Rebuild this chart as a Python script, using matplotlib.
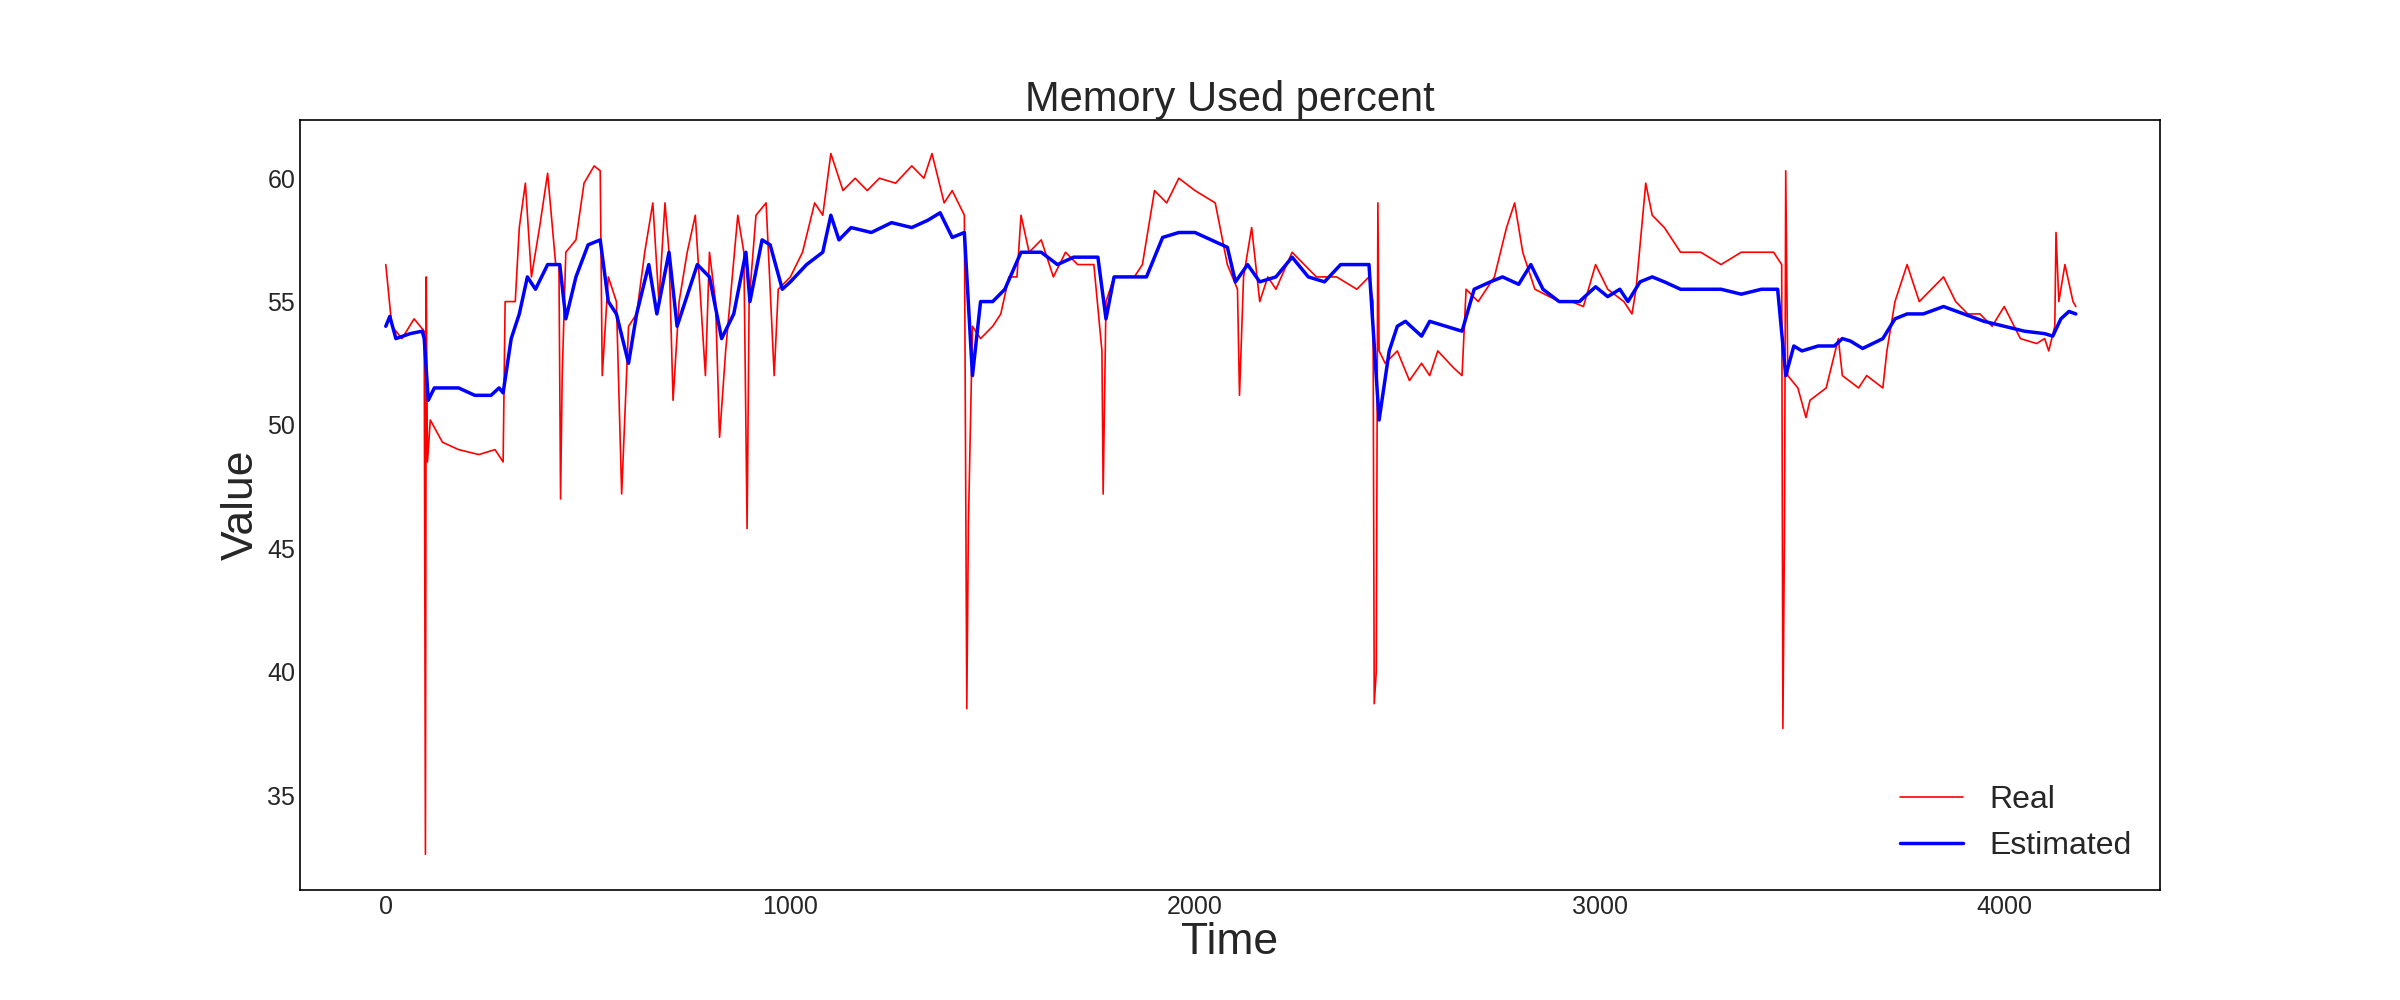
import matplotlib
matplotlib.use("Agg")
import matplotlib.pyplot as plt
import numpy as np

# Real series (time, value)
real_t = [0, 15, 40, 70, 95, 98, 100, 103, 110, 140, 180, 230, 270, 290, 295, 320, 330, 345, 360, 380,
          400, 420, 428, 432, 436, 445, 470, 490, 515, 530, 535, 550, 570, 583, 600, 620, 640, 660, 675, 690,
          700, 710, 725, 745, 765, 790, 800, 815, 825, 840, 870, 885, 893, 898, 915, 940, 960, 970, 1000, 1030,
          1060, 1080, 1100, 1130, 1160, 1190, 1220, 1260, 1300, 1330, 1350, 1380, 1400, 1430, 1436, 1440, 1450, 1470, 1500, 1520,
          1540, 1560, 1570, 1590, 1620, 1650, 1680, 1710, 1750, 1770, 1773, 1780, 1800, 1850, 1870, 1900, 1930, 1960, 2000, 2050,
          2080, 2105, 2110, 2120, 2140, 2160, 2180, 2200, 2240, 2270, 2300, 2350, 2400, 2430, 2440, 2443, 2448, 2452, 2455, 2470,
          2500, 2530, 2560, 2580, 2600, 2640, 2660, 2670, 2700, 2740, 2770, 2790, 2810, 2840, 2900, 2930, 2960, 2990, 3020, 3060,
          3080, 3090, 3114, 3130, 3160, 3200, 3250, 3300, 3350, 3400, 3430, 3450, 3453, 3457, 3460, 3465, 3490, 3510, 3520, 3560,
          3590, 3600, 3640, 3660, 3700, 3710, 3730, 3760, 3790, 3820, 3850, 3880, 3910, 3940, 3970, 4000, 4040, 4080, 4100, 4110,
          4125, 4128, 4135, 4150, 4170, 4177]
real_v = [56.5, 54, 53.5, 54.3, 53.8, 32.6, 56, 48.5, 50.2, 49.3, 49, 48.8, 49, 48.5, 55, 55, 58, 59.8, 56, 58,
          60.2, 56.5, 56.5, 47, 52, 57, 57.5, 59.8, 60.5, 60.3, 52, 56, 55, 47.2, 54, 54.5, 57, 59, 55, 59,
          57, 51, 55, 57, 58.5, 52, 57, 55, 49.5, 53, 58.5, 57, 45.8, 55, 58.5, 59, 52, 55.5, 56, 57,
          59, 58.5, 61, 59.5, 60, 59.5, 60, 59.8, 60.5, 60, 61, 59, 59.5, 58.5, 38.5, 46, 54, 53.5, 54, 54.5,
          56, 56, 58.5, 57, 57.5, 56, 57, 56.5, 56.5, 53, 47.2, 55, 56, 56, 56.5, 59.5, 59, 60, 59.5, 59,
          56.5, 55.5, 51.2, 56, 58, 55, 56, 55.5, 57, 56.5, 56, 56, 55.5, 56, 55, 38.7, 40, 59, 53, 52.5,
          53, 51.8, 52.5, 52, 53, 52.3, 52, 55.5, 55, 56, 58, 59, 57, 55.5, 55, 55, 54.8, 56.5, 55.5, 55,
          54.5, 55.5, 59.8, 58.5, 58, 57, 57, 56.5, 57, 57, 57, 56.5, 37.7, 46, 60.3, 52, 51.5, 50.3, 51, 51.5,
          53.5, 52, 51.5, 52, 51.5, 53, 55, 56.5, 55, 55.5, 56, 55, 54.5, 54.5, 54, 54.8, 53.5, 53.3, 53.5, 53,
          54, 57.8, 55, 56.5, 55, 54.8]

# Estimated series
est_t = [0, 10, 25, 60, 90, 95, 105, 120, 180, 220, 260, 280, 290, 310, 330, 350, 370, 400, 430, 445,
         470, 500, 530, 550, 570, 600, 620, 650, 670, 700, 720, 750, 770, 800, 830, 860, 890, 900, 930, 950,
         980, 1000, 1040, 1080, 1100, 1120, 1150, 1200, 1250, 1300, 1340, 1370, 1400, 1430, 1450, 1470, 1500, 1530, 1570, 1620,
         1660, 1700, 1760, 1780, 1800, 1850, 1880, 1920, 1960, 2000, 2040, 2080, 2100, 2130, 2160, 2200, 2240, 2280, 2320, 2360,
         2400, 2430, 2455, 2480, 2500, 2520, 2560, 2580, 2620, 2660, 2690, 2730, 2760, 2800, 2830, 2860, 2900, 2950, 2990, 3020,
         3050, 3070, 3100, 3130, 3160, 3200, 3250, 3300, 3350, 3400, 3440, 3460, 3480, 3500, 3540, 3580, 3600, 3620, 3650, 3700,
         3730, 3760, 3800, 3850, 3900, 3950, 4000, 4050, 4100, 4120, 4140, 4160, 4177]
est_v = [54, 54.4, 53.5, 53.7, 53.8, 53.5, 51, 51.5, 51.5, 51.2, 51.2, 51.5, 51.3, 53.5, 54.5, 56, 55.5, 56.5, 56.5, 54.3,
         56, 57.3, 57.5, 55, 54.5, 52.5, 54.5, 56.5, 54.5, 57, 54, 55.5, 56.5, 56, 53.5, 54.5, 57, 55, 57.5, 57.3,
         55.5, 55.8, 56.5, 57, 58.5, 57.5, 58, 57.8, 58.2, 58, 58.3, 58.6, 57.6, 57.8, 52, 55, 55, 55.5, 57, 57,
         56.5, 56.8, 56.8, 54.3, 56, 56, 56, 57.6, 57.8, 57.8, 57.5, 57.2, 55.8, 56.5, 55.8, 56, 56.8, 56, 55.8, 56.5,
         56.5, 56.5, 50.2, 53, 54, 54.2, 53.6, 54.2, 54, 53.8, 55.5, 55.8, 56, 55.7, 56.5, 55.5, 55, 55, 55.6, 55.2,
         55.5, 55, 55.8, 56, 55.8, 55.5, 55.5, 55.5, 55.3, 55.5, 55.5, 52, 53.2, 53, 53.2, 53.2, 53.5, 53.4, 53.1, 53.5,
         54.3, 54.5, 54.5, 54.8, 54.5, 54.2, 54, 53.8, 53.7, 53.6, 54.3, 54.6, 54.5]

plt.style.use("seaborn-v0_8-white")
plt.rcParams['font.family'] = ['Liberation Sans', 'DejaVu Sans']

fig, ax = plt.subplots(figsize=(24, 10), dpi=100)
ax.plot(real_t, real_v, color='red', linewidth=1.2, label='Real')
ax.plot(est_t, est_v, color='blue', linewidth=2.5, label='Estimated')

ax.set_xlim(-212, 4385)
ax.set_ylim(31.15, 62.36)
ax.set_title("Memory Used percent", fontsize=30, pad=2)
ax.set_xlabel("Time", fontsize=32, labelpad=2)
ax.set_ylabel("Value", fontsize=32)
ax.set_xticks([0, 1000, 2000, 3000, 4000])
ax.set_yticks([35, 40, 45, 50, 55, 60])
ax.tick_params(labelsize=18)
for s in ax.spines.values():
    s.set_color('black')
    s.set_linewidth(1.2)
ax.legend(loc='lower right', fontsize=23, frameon=False)

fig.savefig("out.png")
